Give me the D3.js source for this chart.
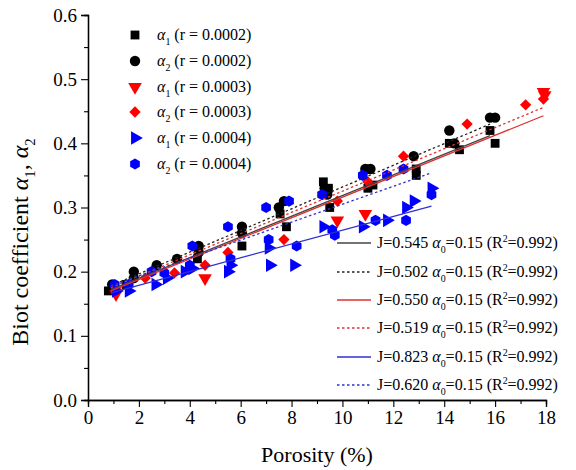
<!DOCTYPE html>
<html>
<head>
<meta charset="utf-8">
<script src="https://cdn.jsdelivr.net/npm/d3@7"></script>
<style>
  body { margin: 0; background: #fff; }
  text { font-family: "Liberation Serif", "Times New Roman", serif; fill: #000; }
</style>
</head>
<body>
<div id="chart"></div>
<script>
// values: porosity (%) and Biot coefficient
var blackSqX = [0.8, 1.5, 4.3, 6.05, 7.55, 7.8, 9.25, 9.45, 9.5, 11.0, 11.2, 11.0, 12.9, 12.9, 14.2, 14.6, 15.8, 16.0];
var blackSqY = [0.17, 0.18, 0.22, 0.24, 0.29, 0.27, 0.34, 0.33, 0.30, 0.36, 0.335, 0.33, 0.36, 0.35, 0.40, 0.39, 0.42, 0.40];

var blackCirX = [0.95, 1.8, 1.8, 2.7, 3.5, 4.35, 4.35, 6.05, 6.05, 7.7, 7.5, 9.3, 9.4, 10.9, 11.1, 12.8, 14.2, 14.4, 15.8, 16.0];
var blackCirY = [0.18, 0.20, 0.19, 0.21, 0.22, 0.24, 0.23, 0.27, 0.26, 0.31, 0.30, 0.33, 0.32, 0.36, 0.36, 0.38, 0.42, 0.40, 0.44, 0.44];

var redTriX = [1.1, 4.6, 9.8, 10.9, 17.9, 17.95];
var redTriY = [0.165, 0.19, 0.28, 0.29, 0.48, 0.475];

var redDiaX = [1.1, 2.25, 3.4, 4.6, 5.5, 7.7, 9.8, 11.0, 12.4, 14.9, 17.2, 17.9];
var redDiaY = [0.175, 0.19, 0.198, 0.21, 0.23, 0.25, 0.31, 0.34, 0.38, 0.43, 0.46, 0.469];

var blueTriX = [1.1, 1.6, 2.65, 3.1, 3.8, 4.1, 5.5, 5.6, 7.1, 7.15, 8.1, 9.25, 10.8, 11.75, 12.5, 12.8, 13.5];
var blueTriY = [0.17, 0.17, 0.18, 0.19, 0.20, 0.205, 0.20, 0.21, 0.237, 0.21, 0.21, 0.27, 0.27, 0.28, 0.30, 0.31, 0.33];

var blueHexX = [1.05, 1.6, 2.5, 3.0, 4.1, 4.0, 5.5, 5.6, 7.0, 7.1, 7.9, 8.2, 9.2, 9.6, 9.7, 10.8, 11.3, 11.75, 12.4, 12.5, 13.5];
var blueHexY = [0.18, 0.18, 0.20, 0.198, 0.24, 0.21, 0.27, 0.22, 0.30, 0.25, 0.31, 0.24, 0.32, 0.265, 0.257, 0.35, 0.28, 0.35, 0.36, 0.28, 0.32];

// fitted lines, start and end points
var fitX = [[0.9, 15.8], [0.9, 15.8], [0.9, 17.9], [0.9, 17.9], [0.9, 13.5], [0.9, 13.5]];
var fitY = [[0.172, 0.412], [0.178, 0.43], [0.17, 0.443], [0.175, 0.456], [0.167, 0.302], [0.178, 0.354]];
var fitJ = ["0.545", "0.502", "0.550", "0.519", "0.823", "0.620"];

var rLabels = ["0.0002", "0.0002", "0.0003", "0.0003", "0.0004", "0.0004"];
var alphaIdx = ["1", "2", "1", "2", "1", "2"];

var xTicks = [0, 2, 4, 6, 8, 10, 12, 14, 16, 18];
var yTicks = [0.0, 0.1, 0.2, 0.3, 0.4, 0.5, 0.6];

// set the dimensions and margins of the graph
var margin = {top: 15, right: 30, bottom: 70, left: 88},
    width = 576 - margin.left - margin.right,
    height = 470 - margin.top - margin.bottom;

var svg = d3.select("#chart")
  .append("svg")
    .attr("width", 576)
    .attr("height", 470);
var g = svg.append("g")
    .attr("transform", "translate(" + margin.left + "," + margin.top + ")");

var x = d3.scaleLinear().domain([0, 18]).range([0, width]);
var y = d3.scaleLinear().domain([0, 0.6]).range([height, 0]);

// axes with minor ticks
var xMinor = g.append("g")
  .attr("transform", "translate(0," + height + ")")
  .call(d3.axisBottom(x).tickValues(d3.range(1, 18, 2)).tickSize(4).tickFormat(""));
var xAxis = g.append("g")
  .attr("transform", "translate(0," + height + ")")
  .call(d3.axisBottom(x).tickValues(xTicks).tickSize(7).tickPadding(4).tickFormat(d3.format("d")));
var yMinor = g.append("g")
  .call(d3.axisLeft(y).tickValues(d3.range(0.05, 0.6, 0.1)).tickSize(4).tickFormat(""));
var yAxis = g.append("g")
  .call(d3.axisLeft(y).tickValues(yTicks).tickSize(7).tickPadding(4).tickFormat(d3.format(".1f")));

[xMinor, xAxis, yMinor, yAxis].forEach(function(a) {
  a.select(".domain").attr("stroke", "#000").attr("stroke-width", 1.3);
  a.selectAll(".tick line").attr("stroke", "#000").attr("stroke-width", 1.1);
  a.selectAll("text").style("font-family", "Liberation Serif").style("font-size", "19px").attr("fill", "#000");
});

// markers
function hexPath(r) {
  var pts = d3.range(6).map(function(i) {
    var a = Math.PI / 3 * i - Math.PI / 2;
    return [r * Math.cos(a), r * Math.sin(a)];
  });
  return "M" + pts.join("L") + "Z";
}
var markers = [
  {path: d3.symbol(d3.symbolSquare, 78)(), rot: 0, color: "#000"},
  {path: d3.symbol(d3.symbolCircle, 85)(), rot: 0, color: "#000"},
  {path: d3.symbol(d3.symbolTriangle, 80)(), rot: 180, color: "#f00"},
  {path: d3.symbol(d3.symbolSquare, 64)(), rot: 45, color: "#f00"},
  {path: d3.symbol(d3.symbolTriangle, 80)(), rot: 90, color: "#00f"},
  {path: hexPath(5.6), rot: 0, color: "#00f"}
];
var seriesX = [blackSqX, blackCirX, redTriX, redDiaX, blueTriX, blueHexX];
var seriesY = [blackSqY, blackCirY, redTriY, redDiaY, blueTriY, blueHexY];

seriesX.forEach(function(xs, k) {
  var pts = xs.map(function(v, i) { return [v, seriesY[k][i]]; });
  g.append("g").selectAll("path")
    .data(pts)
    .enter().append("path")
      .attr("d", markers[k].path)
      .attr("fill", markers[k].color)
      .attr("transform", function(d) {
        return "translate(" + x(d[0]) + "," + y(d[1]) + ") rotate(" + markers[k].rot + ")";
      });
});

// fitted lines
var lineColors = ["#444", "#222", "#e03030", "#e03030", "#3030d0", "#3030d0"];
var lineDash = [null, "2.5,2.5", null, "2.5,2.5", null, "2.5,2.5"];
var line = d3.line()
  .x(function(d) { return x(d[0]); })
  .y(function(d) { return y(d[1]); });
fitX.forEach(function(xs, k) {
  g.append("path")
    .datum(xs.map(function(v, i) { return [v, fitY[k][i]]; }))
    .attr("fill", "none")
    .attr("stroke", lineColors[k])
    .attr("stroke-width", 1.3)
    .attr("stroke-dasharray", lineDash[k])
    .attr("d", line);
});

// rich text helper: parts of [text, style]
function rich(sel, parts, size) {
  var shift = 0;
  parts.forEach(function(p) {
    var t = sel.append("tspan").text(p[0]);
    var want = p[1] === "sub" ? size * 0.3 : p[1] === "sup" ? -size * 0.38 : 0;
    t.attr("dy", want - shift);
    shift = want;
    if (p[1] === "i") t.style("font-style", "italic");
    if (p[1] === "sub" || p[1] === "sup") t.style("font-size", (size * 0.62) + "px");
  });
}

// legend 1: markers
var leg1Y = [35, 61, 87, 112, 138, 164];
leg1Y.forEach(function(ly, k) {
  svg.append("path")
    .attr("d", markers[k].path)
    .attr("fill", markers[k].color)
    .attr("transform", "translate(135," + ly + ") rotate(" + markers[k].rot + ")");
  var t = svg.append("text").attr("x", 157).attr("y", ly + 5).style("font-size", "16px");
  rich(t, [["\u03b1", "i"], [alphaIdx[k], "sub"], [" (r = " + rLabels[k] + ")", ""]], 16);
});

// legend 2: fitted lines
var leg2Y = [243, 272, 300, 328, 357, 385];
leg2Y.forEach(function(ly, k) {
  svg.append("line")
    .attr("x1", 337).attr("x2", 371).attr("y1", ly).attr("y2", ly)
    .attr("stroke", lineColors[k]).attr("stroke-width", 1.3)
    .attr("stroke-dasharray", lineDash[k]);
  var t = svg.append("text").attr("x", 377).attr("y", ly + 5).style("font-size", "16px");
  rich(t, [["J=" + fitJ[k] + " ", ""], ["\u03b1", "i"], ["0", "sub"], ["=0.15 (R", ""], ["2", "sup"], ["=0.992)", ""]], 16);
});

// axis titles
svg.append("text")
  .attr("x", margin.left + width / 2).attr("y", 462)
  .attr("text-anchor", "middle")
  .style("font-size", "22px")
  .text("Porosity (%)");

var yt = svg.append("text")
  .attr("transform", "translate(28,242) rotate(-90)")
  .attr("text-anchor", "middle")
  .style("font-size", "24px");
rich(yt, [["Biot coefficient ", ""], ["\u03b1", "i"], ["1", "sub"], [", ", ""], ["\u03b1", "i"], ["2", "sub"]], 24);
</script>
</body>
</html>
